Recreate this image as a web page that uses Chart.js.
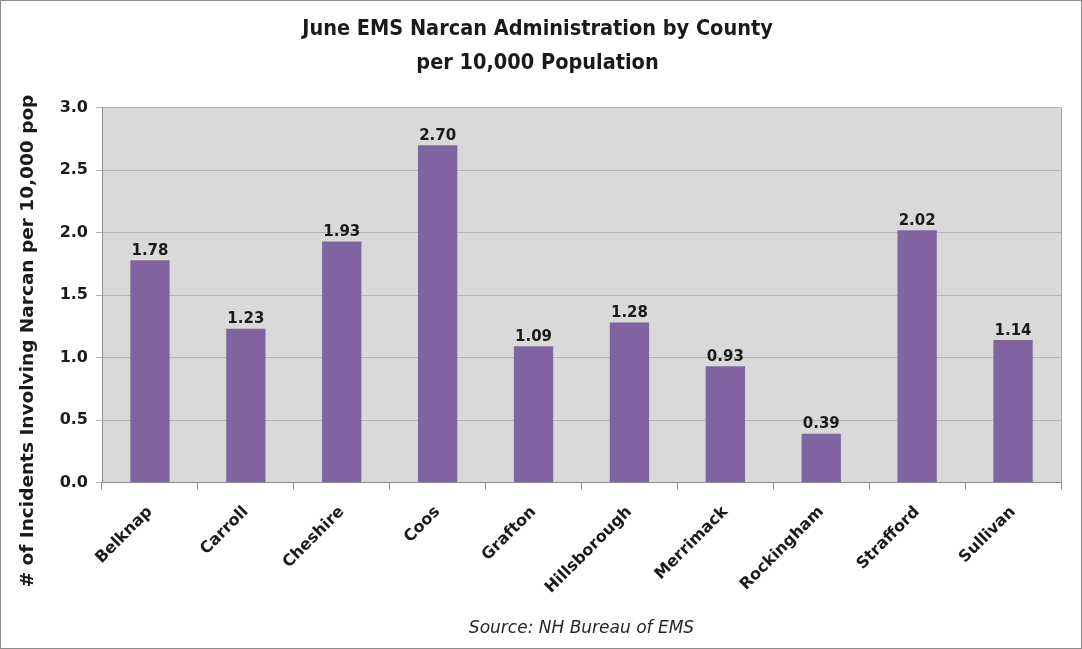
<!DOCTYPE html>
<html>
<head>
<meta charset="utf-8">
<script src="https://cdn.jsdelivr.net/npm/chart.js@4"></script>
<style>
html,body{margin:0;padding:0;background:#fff;}
#wrap{width:1082px;height:649px;position:relative;}
</style>
</head>
<body>
<div id="wrap"><canvas id="c" width="1082" height="649"></canvas></div>
<script>
const categories = ["Belknap","Carroll","Cheshire","Coos","Grafton","Hillsborough","Merrimack","Rockingham","Strafford","Sullivan"];
const values = [1.78,1.23,1.93,2.70,1.09,1.28,0.93,0.39,2.02,1.14];
const yTicks = [0,0.5,1.0,1.5,2.0,2.5,3.0];
const titleLines = ["June EMS Narcan Administration by County","per 10,000 Population"];
const yTitle = "# of Incidents Involving Narcan per 10,000 pop";
const sourceText = "Source: NH Bureau of EMS";

const bgPlugin = {
  id:'bg',
  beforeDraw(chart){
    const {ctx, chartArea:a} = chart;
    ctx.save();
    ctx.fillStyle='#fff';
    ctx.fillRect(0,0,chart.width,chart.height);
    ctx.fillStyle='#d9d9d9';
    ctx.fillRect(a.left,a.top,a.right-a.left,a.bottom-a.top);
    ctx.restore();
  },
  afterDraw(chart){
    const {ctx, chartArea:a} = chart;
    ctx.save();
    ctx.strokeStyle='#a6a6a6';
    ctx.lineWidth=1;
    ctx.beginPath();
    ctx.moveTo(a.right+0.5,a.top);ctx.lineTo(a.right+0.5,a.bottom);
    ctx.stroke();
    ctx.strokeStyle='#8c8c8c';
    ctx.strokeRect(0.5,0.5,chart.width-1,chart.height-1);
    // y axis title
    ctx.translate(28,341);
    ctx.rotate(-Math.PI/2);
    ctx.font='bold 18.5px "DejaVu Sans",sans-serif';
    ctx.fillStyle='#1a1a1a';
    ctx.textAlign='center';
    ctx.textBaseline='middle';
    ctx.fillText(yTitle,0,0);
    ctx.restore();
  }
};
const labelPlugin = {
  id:'vals',
  afterDatasetsDraw(chart){
    const {ctx} = chart;
    const meta = chart.getDatasetMeta(0);
    ctx.save();
    ctx.font='bold 15px "DejaVu Sans"';
    ctx.fillStyle='#1a1a1a';
    ctx.textAlign='center';
    ctx.textBaseline='bottom';
    meta.data.forEach((bar,i)=>{
      ctx.fillText(values[i].toFixed(2), bar.x, bar.y-2);
    });
    ctx.restore();
  }
};

new Chart(document.getElementById('c'),{
  type:'bar',
  data:{labels:categories,datasets:[{data:values,backgroundColor:'#8064a2',borderWidth:0,categoryPercentage:1,barPercentage:0.41}]},
  options:{
    responsive:false,animation:false,
    layout:{padding:{left:14,right:21,top:0,bottom:2}},
    plugins:{
      legend:{display:false},tooltip:{enabled:false},
      title:{display:true,text:titleLines,color:'#1a1a1a',font:{family:'"Liberation Sans Narrow","DejaVu Sans Condensed",sans-serif',size:21.5,weight:'bold',lineHeight:1.55},padding:{top:13,bottom:28}},
      subtitle:{display:true,position:'bottom',fullSize:false,text:sourceText,color:'#262626',font:{family:'"DejaVu Sans",sans-serif',size:17,style:'italic'},padding:{top:0,bottom:8}}
    },
    scales:{
      x:{
        grid:{display:true,drawOnChartArea:false,drawTicks:true,tickLength:7,color:'#8c8c8c',offset:true},
        border:{display:true,color:'#8c8c8c'},
        ticks:{color:'#1a1a1a',font:{family:'"DejaVu Sans",sans-serif',size:16,weight:'bold'},minRotation:45,maxRotation:45,padding:13,autoSkip:false},
        afterFit(s){s.height=136;}
      },
      y:{
        min:0,max:3,
        afterBuildTicks(s){s.ticks=yTicks.map(v=>({value:v}));},
        grid:{color:'#b3b3b3',tickLength:6,drawTicks:true},
        border:{display:true,color:'#8c8c8c'},
        ticks:{color:'#1a1a1a',font:{family:'"DejaVu Sans",sans-serif',size:16,weight:'bold'},padding:8,callback:v=>Number(v).toFixed(1)},
        afterFit(s){s.width=88;}
      }
    }
  },
  plugins:[bgPlugin,labelPlugin]
});
</script>
</body>
</html>
